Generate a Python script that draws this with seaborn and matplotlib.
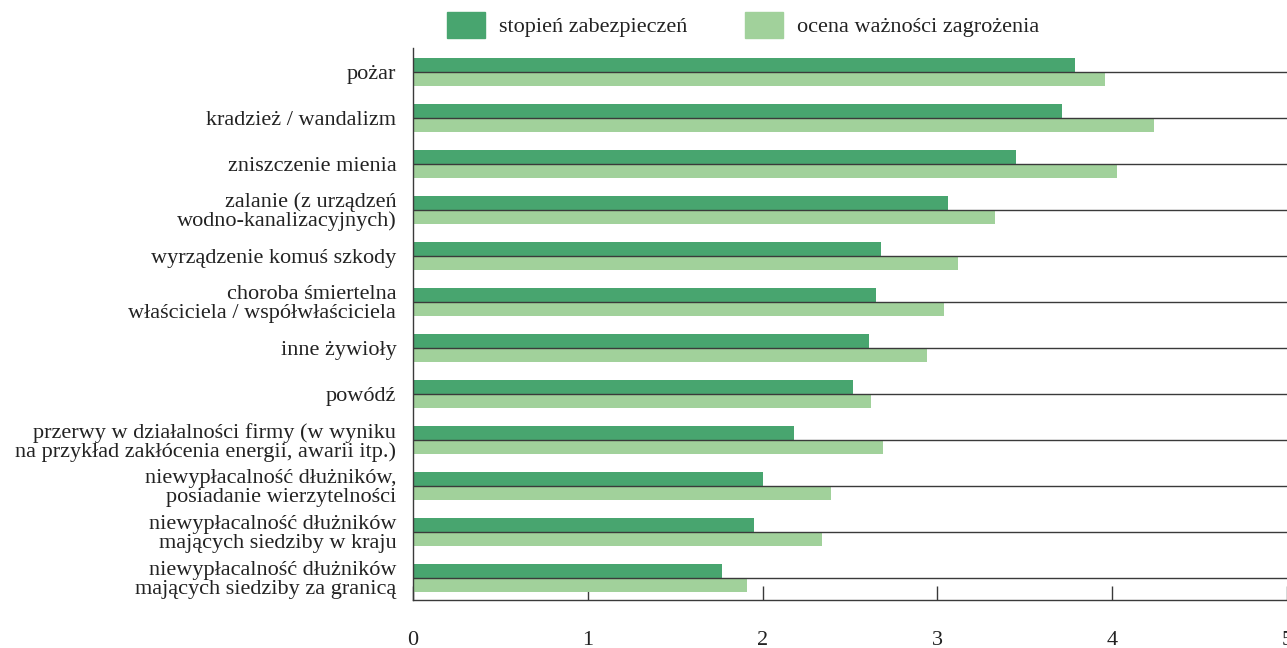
import matplotlib
matplotlib.use("Agg")
import matplotlib.pyplot as plt
import seaborn as sns
import pandas as pd

categories = [
    "pożar",
    "kradzież / wandalizm",
    "zniszczenie mienia",
    "zalanie (z urządzeń\nwodno-kanalizacyjnych)",
    "wyrządzenie komuś szkody",
    "choroba śmiertelna\nwłaściciela / współwłaściciela",
    "inne żywioły",
    "powódź",
    "przerwy w działalności firmy (w wyniku\nna przykład zakłócenia energii, awarii itp.)",
    "niewypłacalność dłużników,\nposiadanie wierzytelności",
    "niewypłacalność dłużników\nmających siedziby w kraju",
    "niewypłacalność dłużników\nmających siedziby za granicą",
]
series_names = ["stopień zabezpieczeń", "ocena ważności zagrożenia"]
stopien = [3.79, 3.71, 3.45, 3.06, 2.68, 2.65, 2.61, 2.52, 2.18, 2.00, 1.95, 1.77]
ocena = [3.96, 4.24, 4.03, 3.33, 3.12, 3.04, 2.94, 2.62, 2.69, 2.39, 2.34, 1.91]
x_ticks = [0, 1, 2, 3, 4, 5]

df = pd.DataFrame({
    "kategoria": categories * 2,
    "seria": [series_names[0]] * len(categories) + [series_names[1]] * len(categories),
    "wartosc": stopien + ocena,
})

sns.set_theme(style="white")
plt.rcParams["font.family"] = ["Liberation Serif", "DejaVu Serif"]

fig = plt.figure(figsize=(12.87, 6.48), dpi=100)
ax = fig.add_axes([413 / 1287, 1 - 600 / 648, 1 - 413 / 1287, (600 - 48) / 648])

palette = ["#48a56f", "#a1d19b"]
sns.barplot(data=df, y="kategoria", x="wartosc", hue="seria", orient="h",
            palette=palette, width=0.6, saturation=1, ax=ax, legend=True)

for bar in ax.patches:
    bar.set_edgecolor("none")

# horizontal rules through each category, drawn over the bars
for i in range(len(categories)):
    ax.axhline(i, color="#3a3a3a", lw=1.0, zorder=5)

ax.set_xlim(0, 5)
ax.set_ylim(len(categories) - 1 + 0.48, -0.52)
ax.set_xticks(x_ticks)
ax.set_xticklabels([str(t) for t in x_ticks])
ax.set_xlabel("")
ax.set_ylabel("")

for side in ["top", "right"]:
    ax.spines[side].set_visible(False)
for side in ["left", "bottom"]:
    ax.spines[side].set_color("#3a3a3a")
    ax.spines[side].set_linewidth(1.0)

ax.tick_params(axis="x", direction="in", length=10, width=1, color="#3a3a3a",
               pad=22, labelsize=16, labelcolor="#222222", bottom=True)
ax.tick_params(axis="y", length=0, pad=12, labelsize=16, labelcolor="#222222")
for lbl in ax.get_yticklabels():
    lbl.set_linespacing(0.95)
    lbl.set_horizontalalignment("right")

ax.get_legend().remove()
handles = [plt.Rectangle((0, 0), 1, 1, color=c) for c in palette]
fig.legend(handles, series_names, loc="upper left",
           bbox_to_anchor=(427 / 1287, 1 + 8 / 648), ncol=2, frameon=False,
           fontsize=16, handlelength=1.71, handleheight=1.4, handletextpad=0.63,
           columnspacing=2.6, labelcolor="#222222")

fig.savefig("out.png", dpi=100)
